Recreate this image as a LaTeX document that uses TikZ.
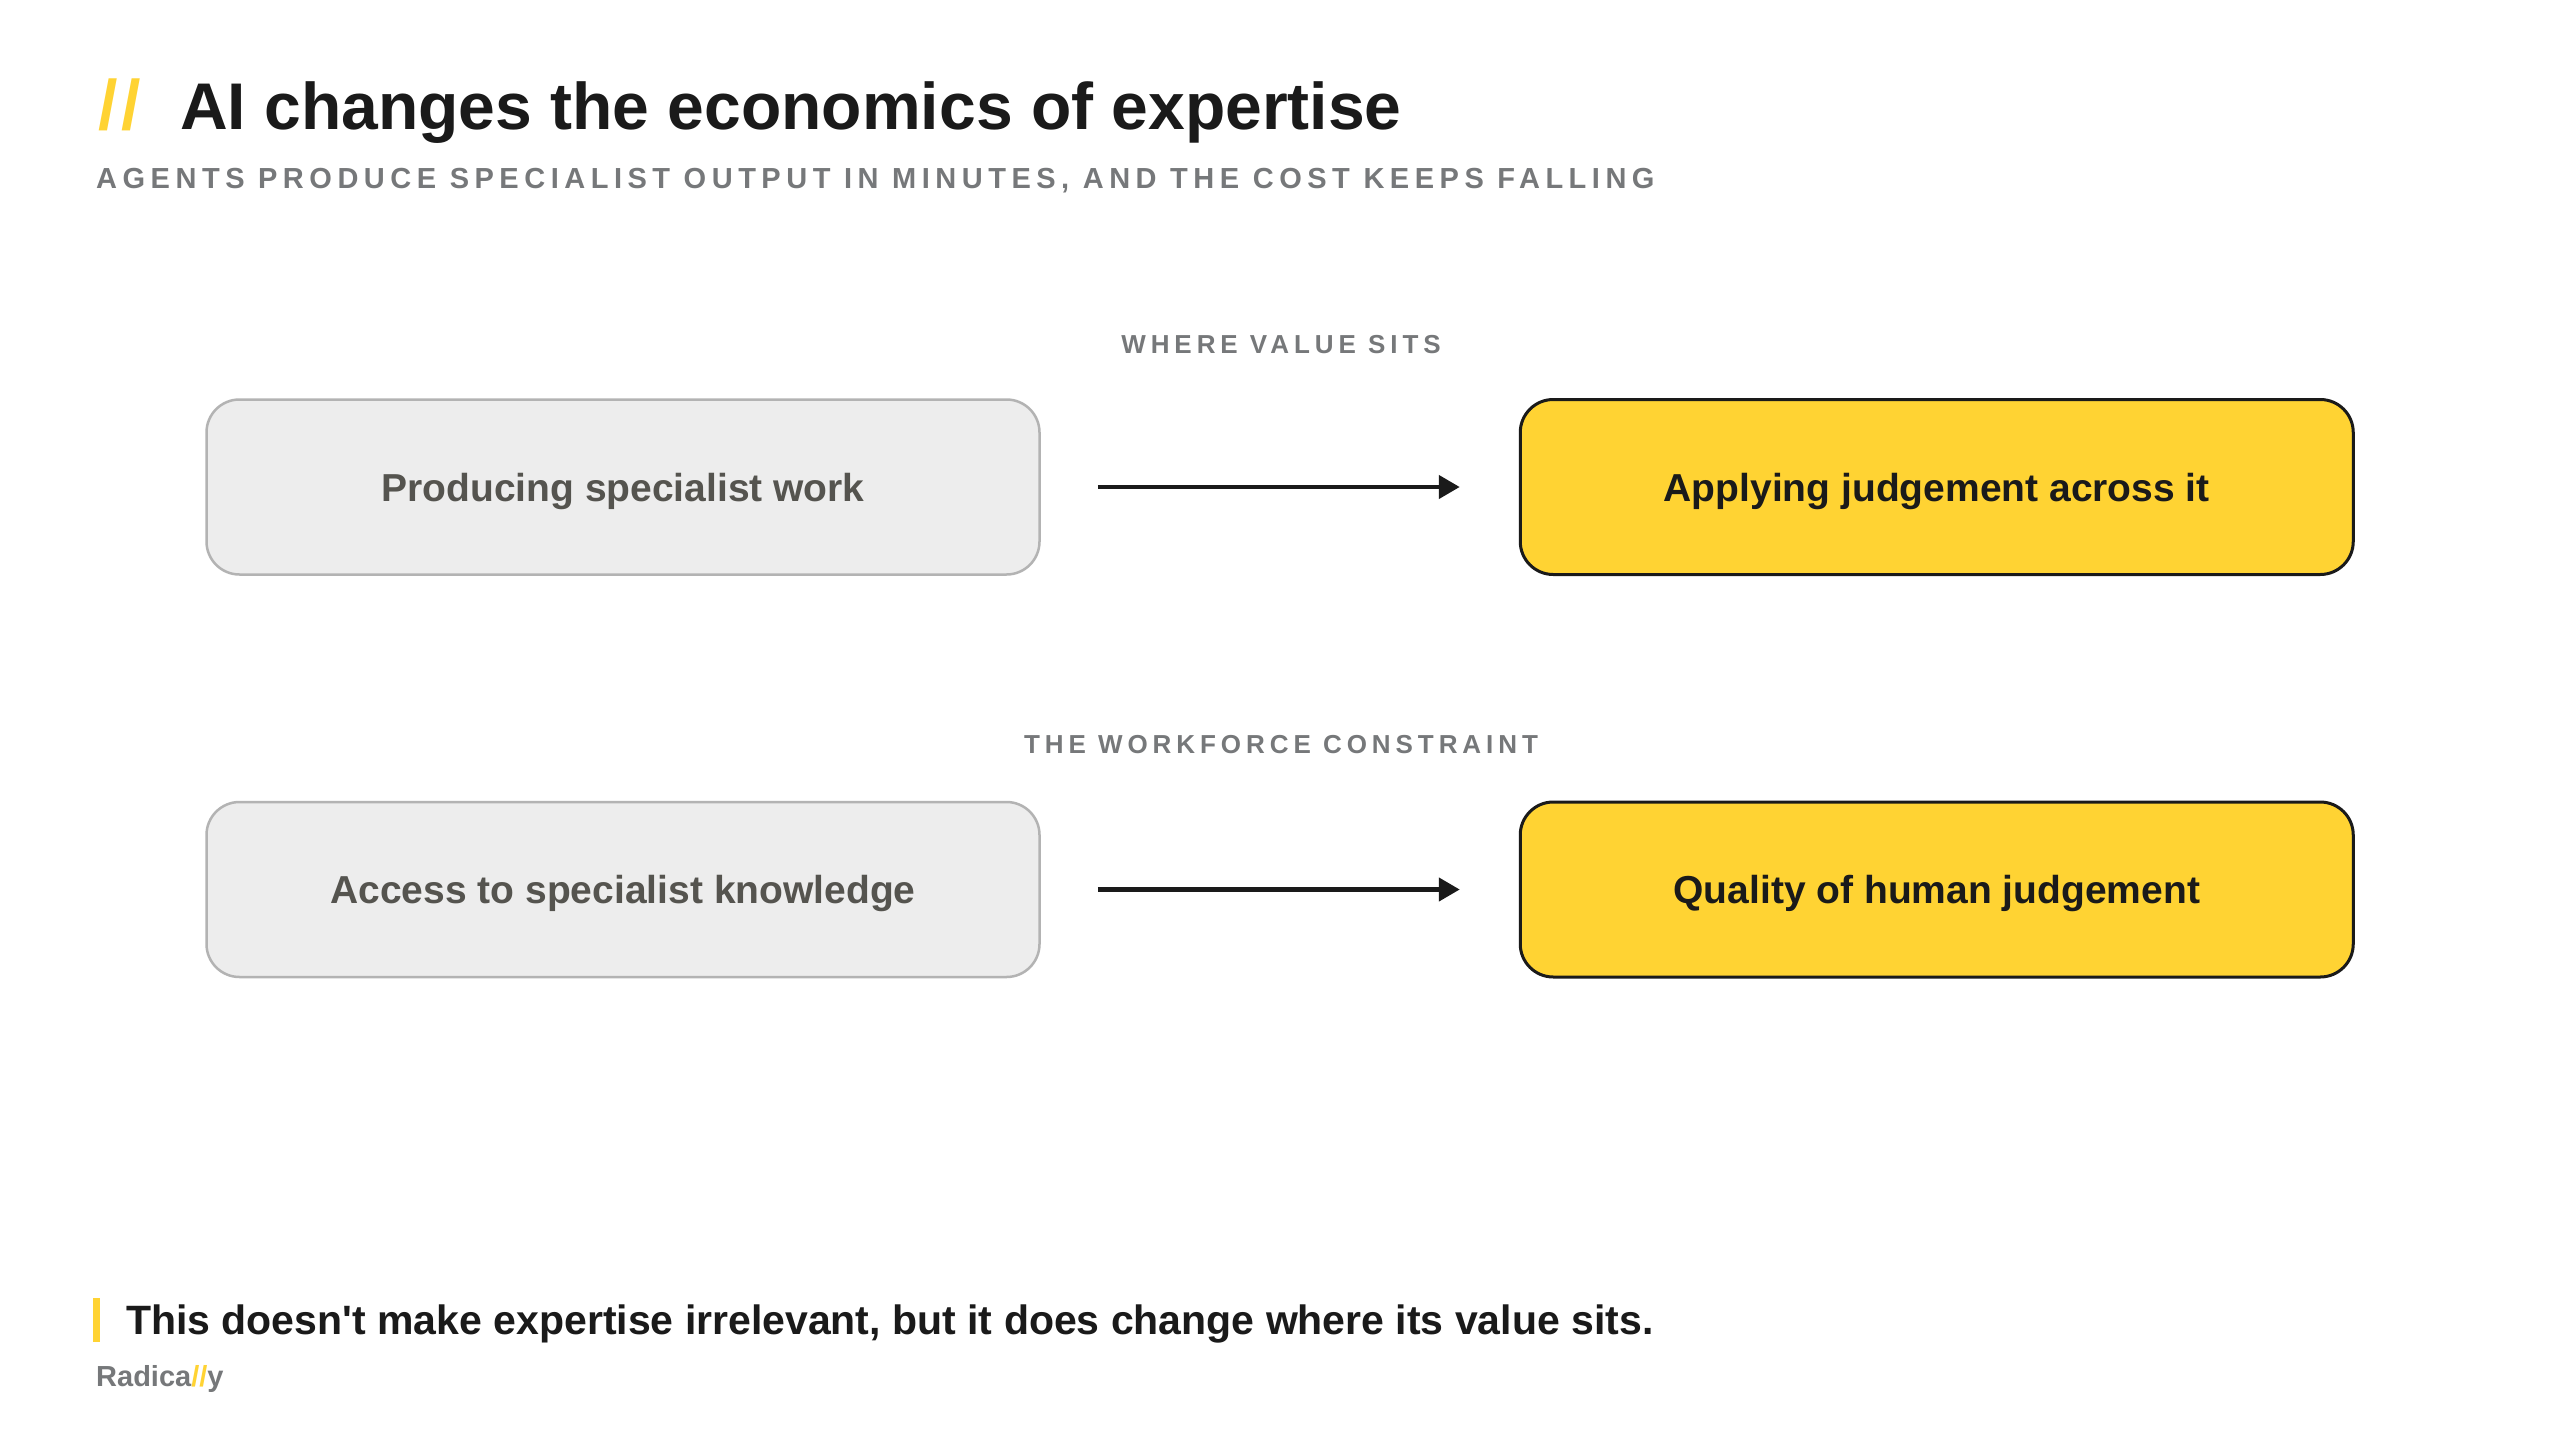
\documentclass[tikz,border=0pt]{standalone}
\usepackage{fontspec}
\setmainfont{Liberation Sans}
\usetikzlibrary{arrows.meta,positioning}
\definecolor{ink}{HTML}{1A1A1A}
\definecolor{muted}{HTML}{76787A}
\definecolor{brand}{HTML}{FFD333}
\definecolor{paper}{HTML}{EDEDED}
\definecolor{rim}{HTML}{B3B3B3}
\definecolor{dim}{HTML}{55544F}
\tikzset{oldbox/.style={rounded corners=33pt,fill=paper,draw=rim,line width=2.5pt,minimum width=833pt,minimum height=175pt,text depth=0pt,text=dim,font=\fontsize{39}{46}\selectfont\bfseries},newbox/.style={rounded corners=33pt,fill=brand,draw=ink,line width=3pt,minimum width=833pt,minimum height=175pt,text depth=0pt,text=ink,font=\fontsize{39}{46}\selectfont\bfseries},move/.style={-{Triangle[length=21pt,width=23pt]},draw=ink,line width=4.5pt,shorten <=57pt,shorten >=59pt},rowlabel/.style={text=muted,font=\fontsize{26}{30}\selectfont\bfseries\addfontfeatures{LetterSpace=19}}}

\begin{document}
\begin{tikzpicture}[x=1pt,y=-1pt,node distance=225pt and 478pt]
\useasboundingbox[fill=white] (0,0) rectangle (2560,1440);
% heading
\node[anchor=base west,inner sep=0pt,text=brand,font=\fontsize{70}{84}\selectfont\bfseries] (slash) at (98,129) {/\kern4pt/};
\node[anchor=base west,inner sep=0pt,text=ink,font=\fontsize{66}{80}\selectfont\bfseries] (title) at (180,129) {AI changes the economics of expertise};
\node[anchor=base west,inner sep=0pt,text=muted,font=\fontsize{29}{34}\selectfont\bfseries\addfontfeatures{LetterSpace=19}] (sub) at (96,188) {AGENTS PRODUCE SPECIALIST OUTPUT IN MINUTES, AND THE COST KEEPS FALLING};
% rows
\node[oldbox] (prod) at (623,487) {Producing specialist work};
\node[newbox,right=of prod] (apply) {Applying judgement across it};
\node[oldbox,below=of prod] (access) {Access to specialist knowledge};
\node[newbox,right=of access] (quality) {Quality of human judgement};
\node[rowlabel] (lab1) at (1281,345) {WHERE VALUE SITS};
\node[rowlabel] (lab2) at (1281,745) {THE WORKFORCE CONSTRAINT};
\draw[move] (prod)--(apply);\draw[move] (access)--(quality);
% footer
\fill[brand] (93,1298) rectangle (100,1342);
\node[anchor=base west,inner sep=0pt,text=ink,font=\fontsize{41}{49}\selectfont\bfseries] (note) at (126,1334) {This doesn\textquotesingle t make expertise irrelevant, but it does change where its value sits.};
\node[anchor=base west,inner sep=0pt,text=muted,font=\fontsize{29}{34}\selectfont\bfseries] (logo) at (96,1386) {Radica\textcolor{brand}{//}y};
\end{tikzpicture}
\end{document}
